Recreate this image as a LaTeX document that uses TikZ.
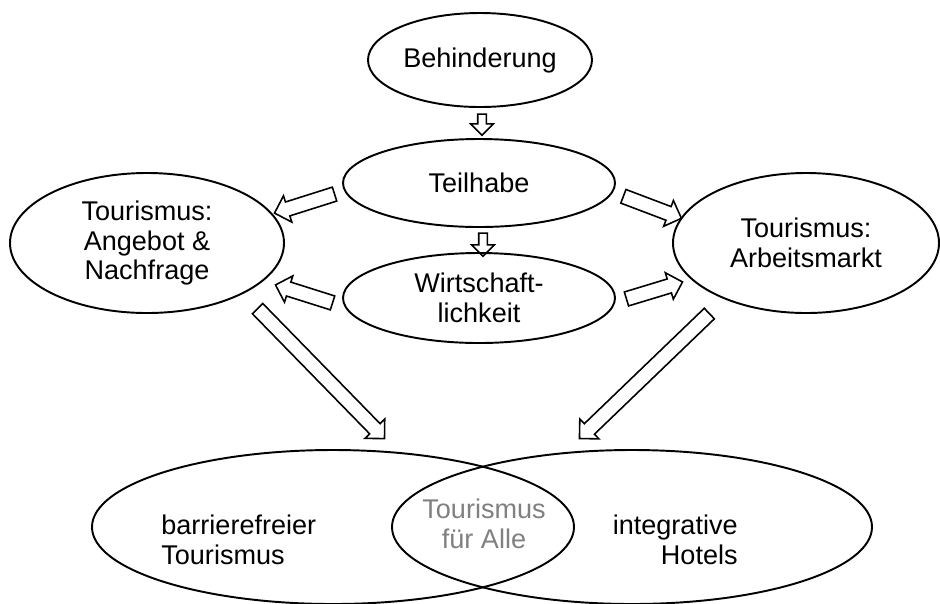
\documentclass[tikz,border=0pt]{standalone}
\usepackage{fontspec}
\setmainfont{Liberation Sans}
\usetikzlibrary{calc,shapes.geometric,shapes.arrows}
\definecolor{allegray}{RGB}{128,128,128}
\newcommand\pxu{0.02cm}
\tikzset{
	blob/.style={draw, ellipse, line width=1.1pt, inner sep=0pt, align=center, font=\fontsize{15.4}{16.8}\selectfont},
	lbl/.style={inner sep=0pt, font=\fontsize{15.4}{16.8}\selectfont},
	hollow/.style={draw, single arrow, line width=0.9pt, inner xsep=0pt, inner ysep=6.5*\pxu, single arrow head extend=6.5*\pxu},
	hollowthin/.style={hollow, inner ysep=3.5*\pxu, single arrow head extend=7*\pxu}
}
% block arrow from (#3) to (#4), node name #2
\newcommand\blockarr[4][hollow]{\path let \p1=($(#4)-(#3)$), \n1={atan2(\y1,\x1)}, \n2={veclen(\x1,\y1)} in node[#1, rotate=\n1, minimum height=\n2] (#2) at ($(#3)!.5!(#4)$) {};}

\begin{document}
\begin{tikzpicture}[x=\pxu, y=-\pxu]
			%%%%% START %%%%%
			\useasboundingbox (0, 0) rectangle (940, 603);
			
			\node[blob, minimum width=224*\pxu, minimum height=94*\pxu] (beh) at (480, 60) {Behinderung};
			\node[blob, minimum width=272*\pxu, minimum height=88*\pxu] (teil) at (479, 183) {Teilhabe};
			\node[blob, minimum width=272*\pxu, minimum height=90*\pxu] (wirt) at (479, 298) {Wirtschaft-\\lichkeit};
			\node[blob, minimum width=274*\pxu, minimum height=140*\pxu] (ang) at (147, 243) {Tourismus:\\Angebot \&\\Nachfrage};
			\node[blob, minimum width=266*\pxu, minimum height=140*\pxu] (arb) at (806, 243) {Tourismus:\\Arbeitsmarkt};
			
			\node[blob, minimum width=482*\pxu, minimum height=154*\pxu] (bar) at (333, 527) {};
			\node[blob, minimum width=480*\pxu, minimum height=154*\pxu] (hot) at (632, 527) {};
			\node[lbl, anchor=west, align=left] (bartxt) at (161, 540) {barrierefreier\\Tourismus};
			\node[lbl, anchor=east, align=right] (hottxt) at (738, 540) {integrative\\Hotels};
			\node[lbl, align=center, text=allegray] (alle) at (484, 524) {Tourismus\\f\"ur Alle};
			
			\coordinate (a1s) at ($(beh.south)+(2, 4)$);
			\coordinate (a1e) at ($(teil.north)+(3, -5)$);
			\coordinate (a2s) at ($(teil.south)+(4, 3)$);
			\coordinate (a2e) at ($(wirt.north)+(4, 2)$);
			\coordinate (a3s) at ($(teil.west)+(-4, 10)$);
			\coordinate (a3e) at ($(ang.east)+(-7, -31)$);
			\coordinate (a4s) at ($(teil.east)+(4, 12)$);
			\coordinate (a4e) at ($(arb.west)+(6, -26)$);
			\coordinate (a5s) at ($(wirt.west)+(-6, 6)$);
			\coordinate (a5e) at ($(ang.east)+(-6, 43)$);
			\coordinate (a6s) at ($(wirt.east)+(7, 2)$);
			\coordinate (a6e) at ($(arb.west)+(7, 40)$);
			\coordinate (a7s) at ($(ang.south)+(108, -8)$);
			\coordinate (a7e) at ($(bar.north)+(49, -13)$);
			\coordinate (a8s) at ($(arb.south)+(-94, -3)$);
			\coordinate (a8e) at ($(hot.north)+(-50, -13)$);
			
			\blockarr[hollowthin]{a1}{a1s}{a1e}
			\blockarr[hollowthin]{a2}{a2s}{a2e}
			\blockarr{a3}{a3s}{a3e}
			\blockarr{a4}{a4s}{a4e}
			\blockarr{a5}{a5s}{a5e}
			\blockarr{a6}{a6s}{a6e}
			\blockarr{a7}{a7s}{a7e}
			\blockarr{a8}{a8s}{a8e}
			%%%%% END %%%%%
\end{tikzpicture}
\end{document}
